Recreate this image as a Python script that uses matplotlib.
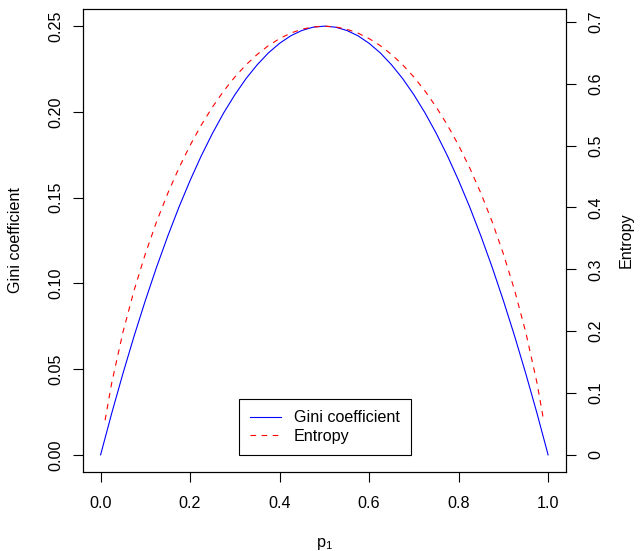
import matplotlib
matplotlib.use("Agg")
import matplotlib.pyplot as plt

plt.rcParams['font.family'] = ['Liberation Sans', 'DejaVu Sans']
plt.rcParams['mathtext.fontset'] = 'custom'
plt.rcParams['mathtext.rm'] = 'Liberation Sans'
plt.rcParams['mathtext.it'] = 'Liberation Sans'

# values
p_gini = [0, 0.025, 0.05, 0.075, 0.1, 0.125, 0.15, 0.175, 0.2, 0.225, 0.25,
          0.275, 0.3, 0.325, 0.35, 0.375, 0.4, 0.425, 0.45, 0.475, 0.5,
          0.525, 0.55, 0.575, 0.6, 0.625, 0.65, 0.675, 0.7, 0.725, 0.75,
          0.775, 0.8, 0.825, 0.85, 0.875, 0.9, 0.925, 0.95, 0.975, 1.0]
gini = [0, 0.0244, 0.0475, 0.0694, 0.09, 0.1094, 0.1275, 0.1444, 0.16, 0.1744, 0.1875,
        0.1994, 0.21, 0.2194, 0.2275, 0.2344, 0.24, 0.2444, 0.2475, 0.2494, 0.25,
        0.2494, 0.2475, 0.2444, 0.24, 0.2344, 0.2275, 0.2194, 0.21, 0.1994, 0.1875,
        0.1744, 0.16, 0.1444, 0.1275, 0.1094, 0.09, 0.0694, 0.0475, 0.0244, 0]

p_ent = [0.01, 0.025, 0.05, 0.075, 0.1, 0.125, 0.15, 0.175, 0.2, 0.225, 0.25,
         0.275, 0.3, 0.325, 0.35, 0.375, 0.4, 0.425, 0.45, 0.475, 0.5,
         0.525, 0.55, 0.575, 0.6, 0.625, 0.65, 0.675, 0.7, 0.725, 0.75,
         0.775, 0.8, 0.825, 0.85, 0.875, 0.9, 0.925, 0.95, 0.975, 0.99]
entropy = [0.0560, 0.1169, 0.1985, 0.2664, 0.3251, 0.3768, 0.4227, 0.4637, 0.5004, 0.5332, 0.5623,
           0.5882, 0.6109, 0.6306, 0.6474, 0.6616, 0.6730, 0.6819, 0.6881, 0.6919, 0.6931,
           0.6919, 0.6881, 0.6819, 0.6730, 0.6616, 0.6474, 0.6306, 0.6109, 0.5882, 0.5623,
           0.5332, 0.5004, 0.4637, 0.4227, 0.3768, 0.3251, 0.2664, 0.1985, 0.1169, 0.0560]

x_ticks = [0.0, 0.2, 0.4, 0.6, 0.8, 1.0]
x_labels = ['0.0', '0.2', '0.4', '0.6', '0.8', '1.0']
gini_ticks = [0.00, 0.05, 0.10, 0.15, 0.20, 0.25]
gini_labels = ['0.00', '0.05', '0.10', '0.15', '0.20', '0.25']
ent_ticks = [0, 0.1, 0.2, 0.3, 0.4, 0.5, 0.6, 0.7]
ent_labels = ['0', '0.1', '0.2', '0.3', '0.4', '0.5', '0.6', '0.7']

fig = plt.figure(figsize=(6.44, 5.51), dpi=100)
ax = fig.add_axes([82.7 / 644, 1 - 472 / 551, (566 - 82.7) / 644, (472 - 9) / 551])
ax2 = ax.twinx()

ax.plot(p_gini, gini, color='blue', lw=0.8)
ax2.plot(p_ent, entropy, color='red', lw=0.8, dashes=(5, 5))

ax.set_xlim(-0.04, 1.04)
ylo, yhi = -0.01, 0.26
ax.set_ylim(ylo, yhi)
k = max(entropy) / max(gini)
ax2.set_ylim(ylo * k, yhi * k)

fs = 11.6
ax.set_xticks(x_ticks)
ax.set_xticklabels(x_labels, fontsize=fs)
ax.set_yticks(gini_ticks)
ax.set_yticklabels(gini_labels, fontsize=fs, rotation=90, va='center')
ax2.set_yticks(ent_ticks)
ax2.set_yticklabels(ent_labels, fontsize=fs, rotation=90, va='center')

for a in (ax, ax2):
    a.tick_params(direction='out', length=7, width=0.8, color='black', pad=7)
    for s in a.spines.values():
        s.set_linewidth(0.8)
        s.set_color('black')
ax.tick_params(axis='x', pad=10)
ax2.tick_params(axis='y', pad=9)

ax.set_xlabel(r'$\mathrm{p}_1$', fontsize=fs, labelpad=18)
ax.set_ylabel('Gini coefficient', fontsize=fs, labelpad=18)
ax2.set_ylabel('Entropy', fontsize=fs, labelpad=11)

h1 = ax.get_lines()[0]
h2 = ax2.get_lines()[0]
leg = ax2.legend([h1, h2], ['Gini coefficient', 'Entropy'], loc='lower left',
                 bbox_to_anchor=(239 / 644, 1 - 455 / 551), bbox_transform=fig.transFigure,
                 fontsize=fs, fancybox=False, edgecolor='black', framealpha=1,
                 handlelength=1.9, handletextpad=0.8, labelspacing=0.2,
                 borderpad=0.7, borderaxespad=0)
leg.get_frame().set_linewidth(0.8)

fig.savefig('out.png', dpi=100)
